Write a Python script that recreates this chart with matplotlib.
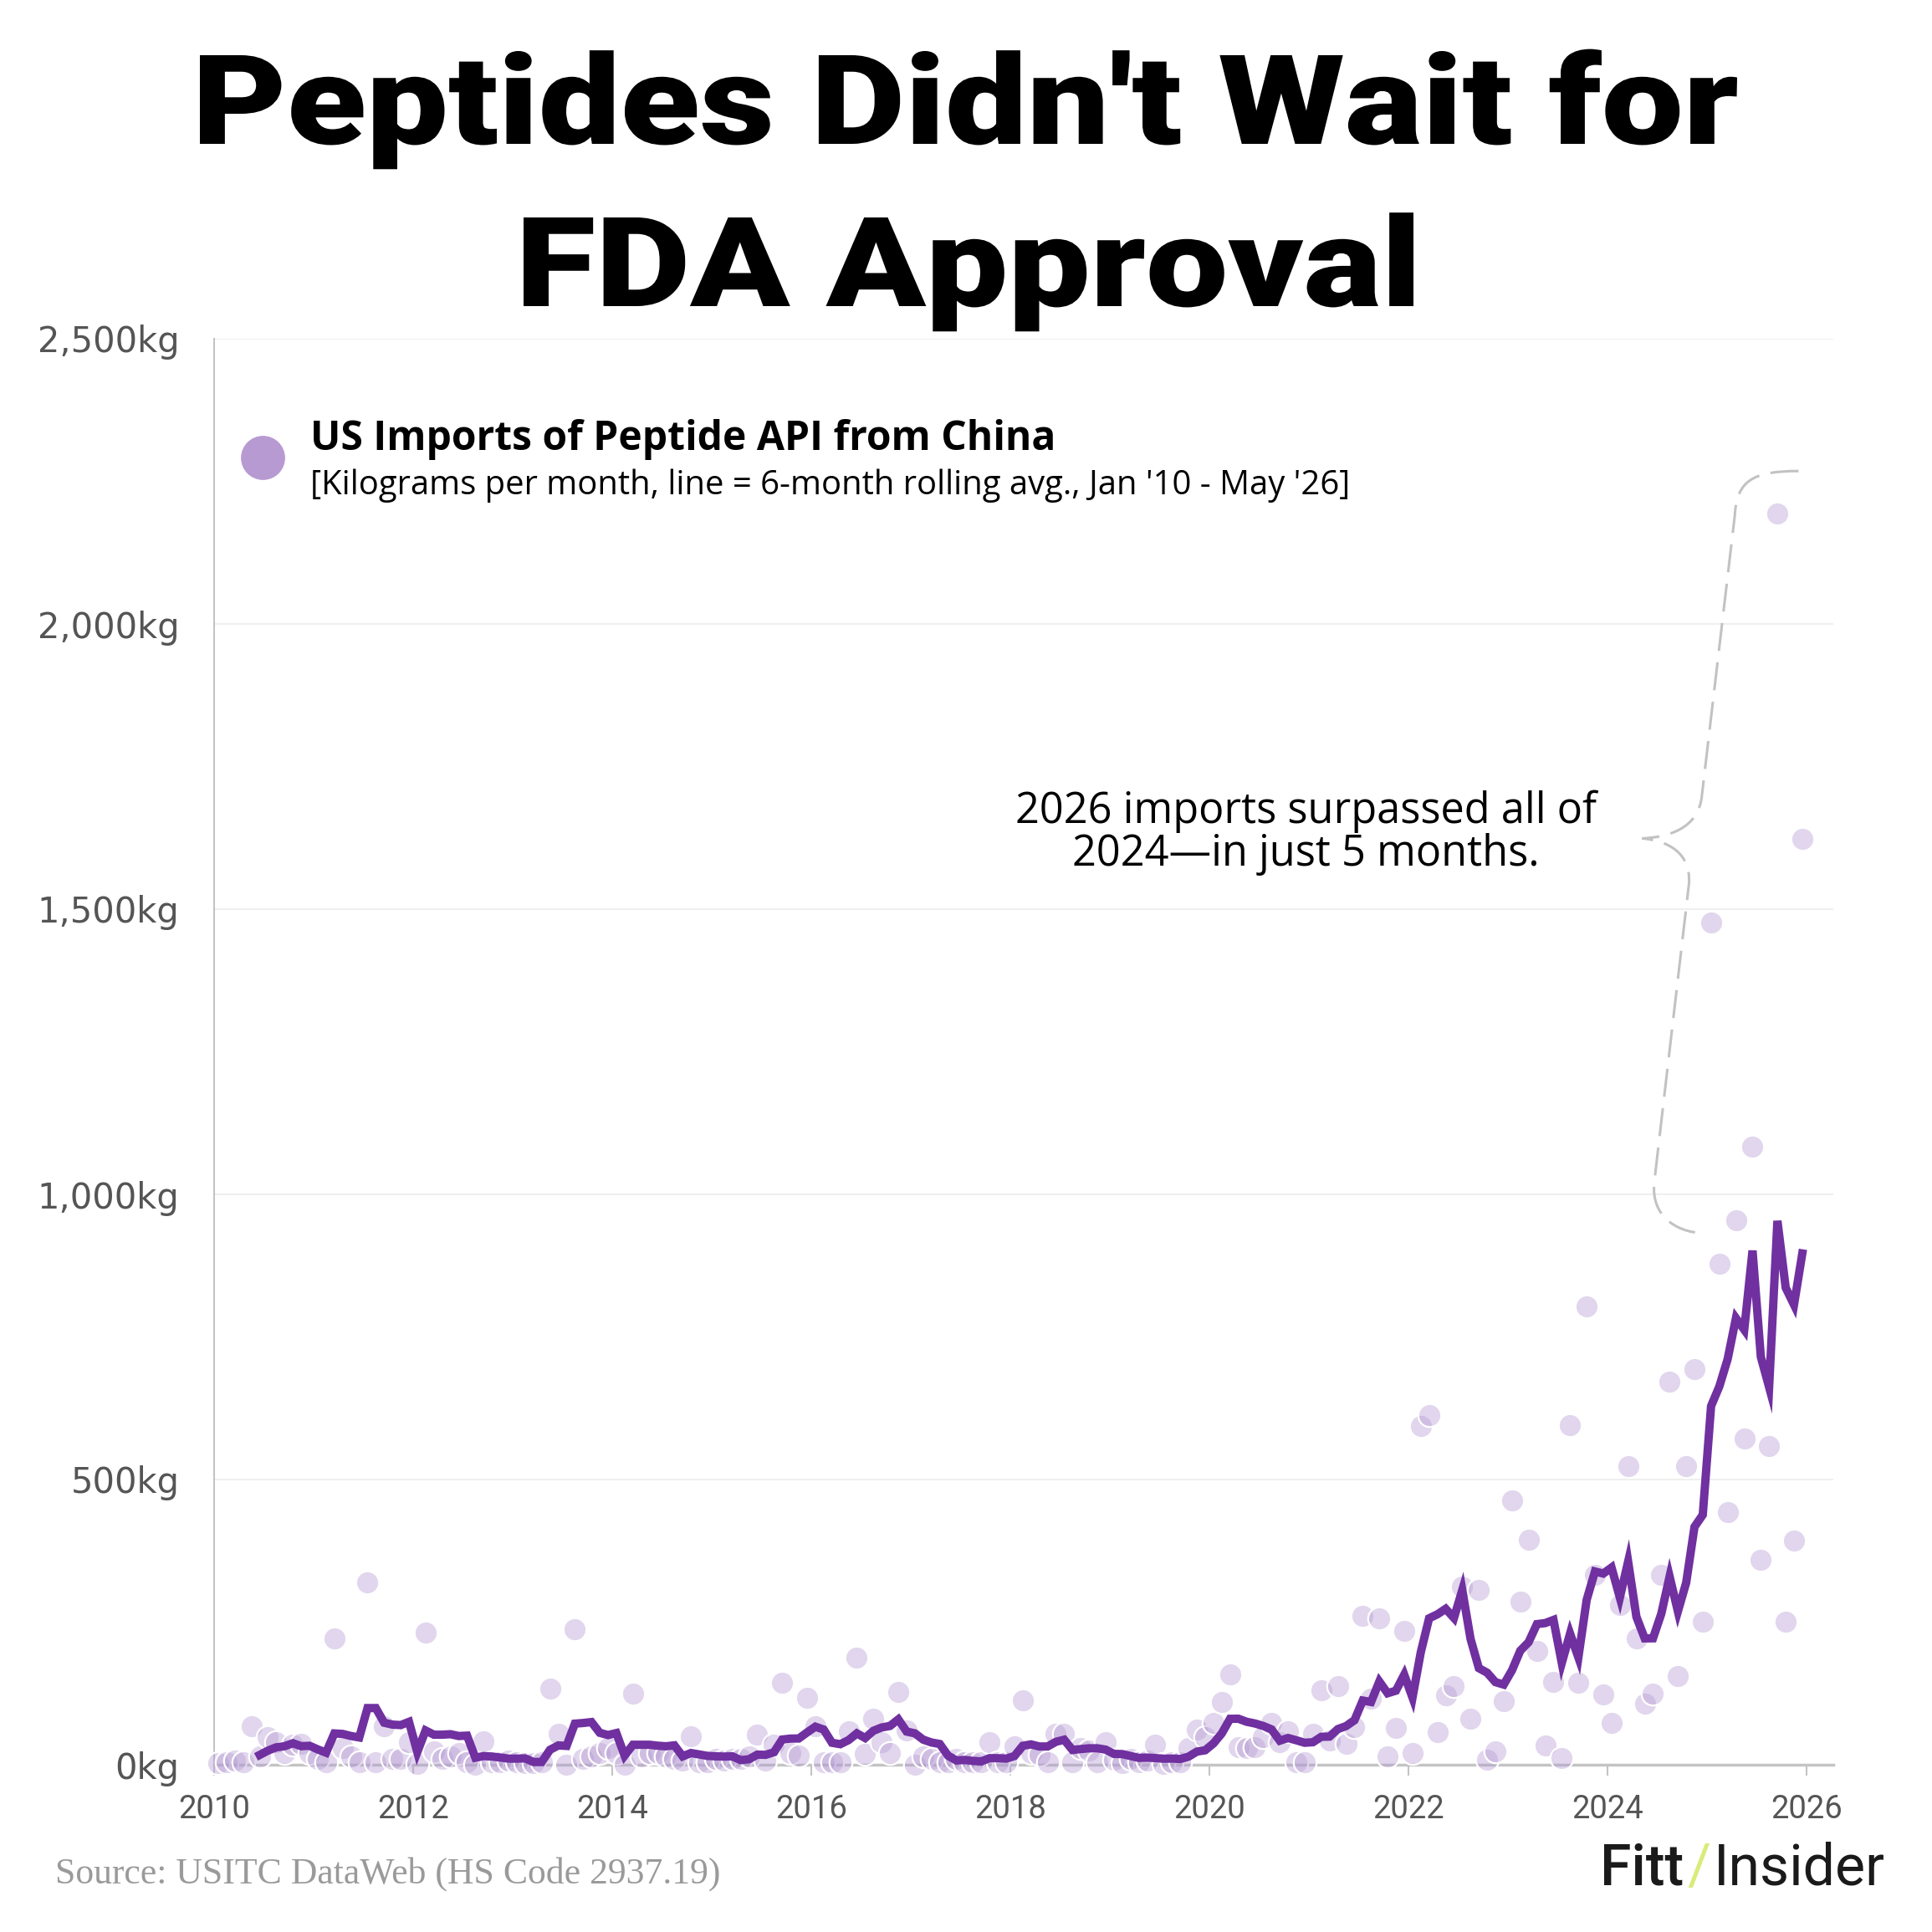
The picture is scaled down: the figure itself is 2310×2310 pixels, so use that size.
import pandas as pd
import matplotlib
matplotlib.use('Agg')
import matplotlib.pyplot as plt
from matplotlib.path import Path
from matplotlib.patches import PathPatch
from matplotlib.textpath import TextPath
from matplotlib.font_manager import FontProperties
from matplotlib.transforms import Affine2D, IdentityTransform

# monthly US imports of peptide API from China (kg)
kg_2010 = [3, 5, 8, 4, 68, 15, 49, 39, 20, 35, 37, 20]
kg_2011 = [10, 5, 222, 30, 15, 5, 319, 5, 68, 10, 10, 39]
kg_2012 = [1, 232, 24, 10, 15, 20, 5, 0, 41, 5, 5, 8]
kg_2013 = [5, 3, 3, 5, 133, 54, 0, 237, 10, 15, 20, 30]
kg_2014 = [21, 0, 124, 15, 20, 20, 15, 10, 8, 50, 5, 5]
kg_2015 = [10, 8, 10, 10, 15, 53, 8, 35, 144, 20, 16, 117]
kg_2016 = [68, 5, 5, 5, 59, 188, 19, 81, 40, 21, 128, 60]
kg_2017 = [0, 15, 10, 5, 5, 10, 5, 5, 5, 39, 5, 5]
kg_2018 = [32, 113, 20, 17, 5, 54, 54, 5, 30, 25, 5, 40]
kg_2019 = [9, 3, 10, 5, 8, 35, 2, 5, 5, 30, 61, 49]
kg_2020 = [74, 110, 159, 31, 29, 31, 48, 74, 40, 59, 5, 5]
kg_2021 = [54, 131, 42, 138, 37, 66, 261, 116, 257, 15, 64, 234]
kg_2022 = [20, 594, 613, 57, 122, 138, 313, 80, 306, 9, 23, 112]
kg_2023 = [464, 286, 395, 199, 34, 145, 11, 596, 144, 804, 333, 123]
kg_2024 = [74, 280, 523, 222, 107, 124, 333, 671, 156, 524, 694, 251]
kg_2025 = [1476, 879, 443, 955, 572, 1083, 359, 559, 2193, 251, 393, 1623]

years = list(range(2010, 2026))
yearly = [kg_2010, kg_2011, kg_2012, kg_2013, kg_2014, kg_2015, kg_2016, kg_2017,
          kg_2018, kg_2019, kg_2020, kg_2021, kg_2022, kg_2023, kg_2024, kg_2025]

y_ticks = [0, 500, 1000, 1500, 2000, 2500]
y_labels = ['0kg', '500kg', '1,000kg', '1,500kg', '2,000kg', '2,500kg']
x_ticks = [2010, 2012, 2014, 2016, 2018, 2020, 2022, 2024, 2026]

rows = []
for yr, vals in zip(years, yearly):
    for m, v in enumerate(vals):
        rows.append((yr + (m + 0.5) / 12, v))
df = pd.DataFrame(rows, columns=['date', 'kg'])
df['roll'] = df['kg'].rolling(6).mean()

plt.rcParams['font.family'] = ['Roboto', 'DejaVu Sans']

W = 2310
fig = plt.figure(figsize=(23.1, 23.1), dpi=100)


def fx(x):
    return x / W


def fy(y):
    return 1 - y / W


ax = fig.add_axes([fx(256), fy(2110), fx(2192 - 256), (2110 - 405) / W])

dot_rgba = (0.706, 0.604, 0.827, 0.4)
ax.scatter(df['date'], df['kg'], s=390, facecolors=[dot_rgba], edgecolors='white',
           linewidths=1.6, zorder=3, clip_on=False)
ax.plot(df['date'], df['roll'], color='#7030a0', lw=7.2, solid_joinstyle='miter',
        zorder=4, clip_on=False)

ax.set_xlim(2010, 2026.27)
ax.set_ylim(0, 2500)
ax.set_yticks(y_ticks)
ax.set_yticklabels(y_labels, fontfamily='DejaVu Sans')
ax.set_xticks(x_ticks)
ax.grid(axis='y', color='#efefef', lw=1.5, zorder=0)
ax.set_axisbelow(True)
for s in ['top', 'right']:
    ax.spines[s].set_visible(False)
ax.spines['left'].set_color('#c4c4c4')
ax.spines['left'].set_linewidth(1.5)
ax.spines['bottom'].set_color('#c4c4c4')
ax.spines['bottom'].set_linewidth(2.5)
ax.spines['bottom'].set_zorder(2)
ax.tick_params(axis='y', length=0, pad=30, labelsize=30, labelcolor='#555555')
ax.tick_params(axis='x', length=9.5, width=1.5, color='#c4c4c4', pad=16,
               labelsize=27.5, labelcolor='#555555')

# dashed curly brace beside the 2025 points
verts = [(2025.92, 2268), (2025.45, 2268), (2025.30, 2250), (2025.28, 2190),
         (2024.95, 1700),
         (2024.92, 1640), (2024.60, 1626), (2024.35, 1624),
         (2024.60, 1620), (2024.84, 1600), (2024.82, 1545),
         (2024.47, 1020),
         (2024.44, 960), (2024.70, 935), (2024.94, 932)]
codes = [Path.MOVETO, Path.CURVE4, Path.CURVE4, Path.CURVE4,
         Path.LINETO,
         Path.CURVE4, Path.CURVE4, Path.CURVE4,
         Path.CURVE4, Path.CURVE4, Path.CURVE4,
         Path.LINETO,
         Path.CURVE4, Path.CURVE4, Path.CURVE4]
ax.add_patch(PathPatch(Path(verts, codes), fill=False, edgecolor='#c2c2c2', lw=2.2,
                       linestyle=(0, (11, 4.5)), zorder=2, clip_on=False))

# title: heavy sans, widened to the reference's letter widths
title_fp = FontProperties(family='Roboto', weight='black')
cap_h = TextPath((0, 0), 'H', size=100, prop=title_fp).get_extents().height


def title_line(text, x0, x1, base, cap_px=106):
    tp = TextPath((0, 0), text, size=100, prop=title_fp)
    ext = tp.get_extents()
    tr = (Affine2D().translate(-ext.x0, 0)
          .scale((x1 - x0) / ext.width, cap_px / cap_h)
          .translate(x0, W - base))
    fig.add_artist(PathPatch(tr.transform_path(tp), facecolor='black',
                             edgecolor='none', transform=IdentityTransform()))


title_line("Peptides Didn't Wait for", 239, 2077, 172)
title_line('FDA Approval', 626, 1690, 366)

# legend block
fig.lines.append(plt.Line2D([fx(314)], [fy(547)], marker='o', markersize=37,
                            color='#b89ad2', transform=fig.transFigure))
fig.text(fx(371), fy(538), 'US Imports of Peptide API from China', ha='left',
         va='baseline', fontsize=34.6, fontweight='bold', color='black',
         family='Open Sans')
fig.text(fx(371), fy(591),
         "[Kilograms per month, line = 6-month rolling avg., Jan '10 - May '26]",
         ha='left', va='baseline', fontsize=28.8, color='black', family='Open Sans')

# annotation
fig.text(fx(1561), fy(984), '2026 imports surpassed all of', ha='center',
         va='baseline', fontsize=36.4, color='black', family='Open Sans')
fig.text(fx(1561), fy(1035), '2024\u2014in just 5 months.', ha='center',
         va='baseline', fontsize=36.4, color='black', family='Open Sans')

# footer
fig.text(fx(66), fy(2252), 'Source: USITC DataWeb (HS Code 2937.19)', ha='left',
         va='baseline', fontsize=31.5, color='#9a9a9a', family='Liberation Serif')

fig.canvas.draw()
r = fig.canvas.get_renderer()
t_ins = fig.text(fx(2254), fy(2253), 'Insider', ha='right', va='baseline',
                 fontsize=49, color='#1a1a1a')
bb = t_ins.get_window_extent(r)
t_sl = fig.text((bb.x0 - 4) / W, fy(2253), '/', ha='right', va='baseline',
                fontsize=49, color='#d8ec7a')
bb2 = t_sl.get_window_extent(r)
fig.text((bb2.x0 - 4) / W, fy(2253), 'Fitt', ha='right', va='baseline',
         fontsize=49, fontweight='medium', color='#1a1a1a')

fig.savefig('out.png', dpi=100)
plt.close(fig)
